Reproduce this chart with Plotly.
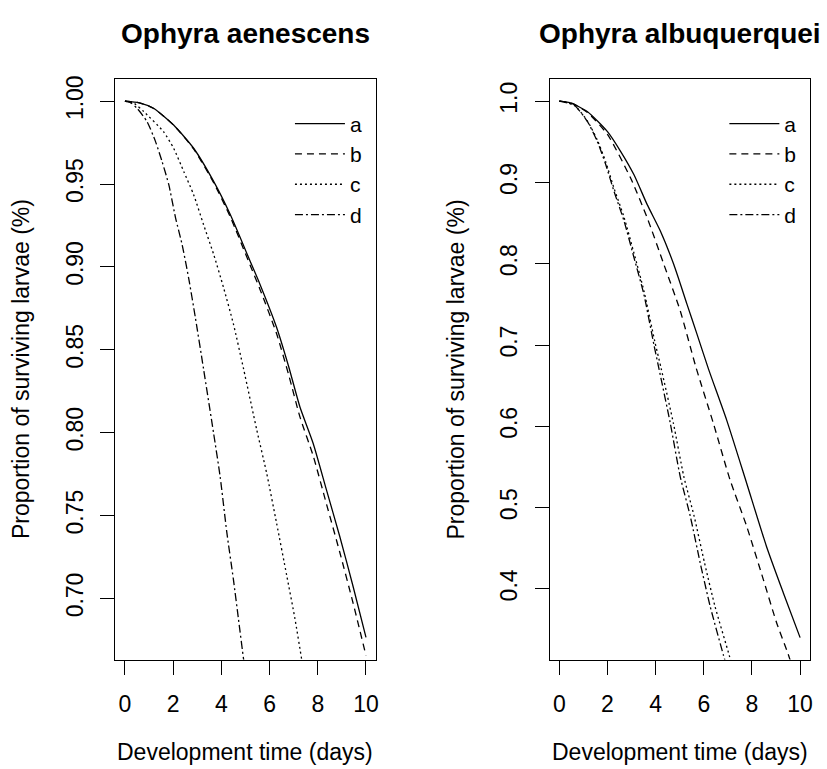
import plotly.graph_objects as go

# ---------------- data ----------------
titles = ["Ophyra aenescens", "Ophyra albuquerquei"]
x_label = "Development time (days)"
y_label = "Proportion of surviving larvae (%)"
series_names = ["a", "b", "c", "d"]

# Ophyra aenescens
aen_a_t = [0, 0.6, 1.2, 2.02, 2.85, 3.68, 4.37, 5.19, 5.6, 6.29, 6.8, 7.26, 7.81, 8.36, 8.91, 9.46, 10.0]
aen_a_v = [1.0, 0.9990, 0.9956, 0.9856, 0.9716, 0.9516, 0.9316, 0.9036, 0.8896, 0.8636, 0.8395, 0.8155, 0.7935, 0.7655, 0.7375, 0.7075, 0.6765]
aen_b_t = [0, 0.6, 1.2, 2.02, 2.85, 3.68, 4.37, 5.19, 5.6, 6.29, 6.8, 7.26, 7.81, 8.36, 8.91, 9.46, 10.0]
aen_b_v = [1.0, 0.9990, 0.9956, 0.9855, 0.9712, 0.9508, 0.9302, 0.9012, 0.8866, 0.8598, 0.8345, 0.8095, 0.7860, 0.7570, 0.7280, 0.6975, 0.6655]
aen_c_t = [0, 0.4, 0.79, 1.6, 2.02, 2.44, 2.85, 3.26, 3.68, 4.09, 4.5, 4.92, 5.47, 5.88, 6.29, 6.71, 7.05, 7.33, 7.45]
aen_c_v = [1.0, 0.9985, 0.9936, 0.9816, 0.9716, 0.9576, 0.9436, 0.9256, 0.9076, 0.8876, 0.8656, 0.8386, 0.8016, 0.7755, 0.7455, 0.7140, 0.6880, 0.6635, 0.6530]
aen_d_t = [0, 0.25, 0.51, 0.92, 1.27, 1.54, 1.82, 2.1, 2.37, 2.64, 2.92, 3.26, 3.68, 3.95, 4.23, 4.5, 4.71, 4.92, 5.0]
aen_d_v = [1.0, 0.9990, 0.9956, 0.9876, 0.9756, 0.9636, 0.9496, 0.9296, 0.9136, 0.8936, 0.8696, 0.8386, 0.7995, 0.7735, 0.7395, 0.7115, 0.6875, 0.6635, 0.6550]

# Ophyra albuquerquei
alb_a_t = [0, 0.5, 1.17, 2.0, 2.55, 3.1, 3.65, 4.2, 4.75, 5.3, 5.71, 6.2, 6.95, 7.78, 8.6, 9.3, 10.0]
alb_a_v = [1.0, 0.9975, 0.987, 0.9625, 0.938, 0.9094, 0.8727, 0.840, 0.7993, 0.7503, 0.7140, 0.670, 0.6076, 0.530, 0.4525, 0.3953, 0.340]
alb_b_t = [0, 0.5, 1.17, 2.0, 2.96, 3.65, 4.34, 5.02, 5.67, 6.4, 7.09, 7.78, 8.47, 9.02, 9.5, 9.6]
alb_b_v = [1.0, 0.9975, 0.986, 0.959, 0.9054, 0.8564, 0.7993, 0.7422, 0.673, 0.6034, 0.5341, 0.477, 0.4117, 0.3586, 0.320, 0.311]
alb_c_t = [0, 0.62, 1.17, 1.58, 1.93, 2.27, 2.69, 3.1, 3.51, 3.96, 4.23, 4.74, 5.17, 5.6, 6.03, 6.46, 7.06, 7.15]
alb_c_v = [1.0, 0.995, 0.9755, 0.952, 0.925, 0.893, 0.857, 0.813, 0.767, 0.705, 0.671, 0.6034, 0.5382, 0.4892, 0.432, 0.379, 0.3179, 0.308]
alb_d_t = [0, 0.62, 1.17, 1.58, 1.93, 2.27, 2.69, 3.1, 3.51, 3.93, 4.13, 4.61, 5.02, 5.44, 5.85, 6.26, 6.82, 6.9]
alb_d_v = [1.0, 0.995, 0.9748, 0.9503, 0.9217, 0.8891, 0.8524, 0.8075, 0.7625, 0.700, 0.672, 0.6034, 0.5382, 0.4892, 0.432, 0.379, 0.3179, 0.310]

x_ticks = [0, 2, 4, 6, 8, 10]
aen_y_ticks = [0.70, 0.75, 0.80, 0.85, 0.90, 0.95, 1.00]
alb_y_ticks = [0.4, 0.5, 0.6, 0.7, 0.8, 0.9, 1.0]

# ---------------- styling ----------------
FONT = "Liberation Sans, Arial, Helvetica, sans-serif"
FS = 23
LEG_FS = 21
dashes = ["solid", "7px,5px", "2px,3px", "8px,3px,2px,3px"]
W, H = 827, 769

fig = go.Figure()

panels = [
    ([(aen_a_t, aen_a_v), (aen_b_t, aen_b_v), (aen_c_t, aen_c_v), (aen_d_t, aen_d_v)], "x", "y", "legend"),
    ([(alb_a_t, alb_a_v), (alb_b_t, alb_b_v), (alb_c_t, alb_c_v), (alb_d_t, alb_d_v)], "x2", "y2", "legend2"),
]
for curves, xa, ya, lg in panels:
    for name, (t, v), dash in zip(series_names, curves, dashes):
        fig.add_trace(go.Scatter(
            x=t, y=v, mode="lines", name=name, xaxis=xa, yaxis=ya, legend=lg,
            line=dict(color="black", width=1.3, dash=dash, shape="spline", smoothing=0.6),
            hoverinfo="skip",
        ))

# plot boxes in pixels
L_left, L_right = 115.7, 377.0
R_left, R_right = 551.7, 812.7
top_px, bot_px = 75.7, 659.0

def xdom(a, b):
    return [a / W, b / W]

ydom = [1 - bot_px / H, 1 - top_px / H]

axis_common = dict(
    showline=True, mirror=True, linecolor="black", linewidth=1.3,
    ticks="outside", ticklen=14, tickwidth=1.3, tickcolor="black",
    showgrid=False, zeroline=False,
    tickfont=dict(family=FONT, size=FS, color="black"),
)

legend_common = dict(xanchor="left", yanchor="top", bgcolor="rgba(0,0,0,0)",
                     borderwidth=0, itemwidth=50, tracegroupgap=0,
                     font=dict(family=FONT, size=LEG_FS, color="black"))

fig.update_layout(
    width=W, height=H, autosize=False,
    margin=dict(l=0, r=0, t=0, b=0),
    paper_bgcolor="white", plot_bgcolor="white",
    font=dict(family=FONT, size=FS, color="black"),
    xaxis=dict(domain=xdom(L_left, L_right), range=[-0.4, 10.4], tickvals=x_ticks,
               ticklabelstandoff=10, anchor="y", **axis_common),
    yaxis=dict(domain=ydom, range=[0.6631, 1.0132], tickvals=aen_y_ticks,
               ticktext=[f"{v:.2f}" for v in aen_y_ticks], tickangle=-90,
               ticklabelstandoff=8, anchor="x", **axis_common),
    xaxis2=dict(domain=xdom(R_left, R_right), range=[-0.4, 10.4], tickvals=x_ticks,
                ticklabelstandoff=10, anchor="y2", **axis_common),
    yaxis2=dict(domain=ydom, range=[0.313, 1.0269], tickvals=alb_y_ticks,
                ticktext=[f"{v:.1f}" for v in alb_y_ticks], tickangle=-90,
                ticklabelstandoff=8, anchor="x2", **axis_common),
    legend=dict(x=291 / W, y=1 - 100 / H, **legend_common),
    legend2=dict(x=727 / W, y=1 - 100 / H, **legend_common),
    showlegend=True,
)

annotations = []
for title, (a, b) in zip(titles, [(L_left, L_right), (R_left, R_right)]):
    cx = (a + b) / 2 / W
    annotations.append(dict(text=f"<b>{title}</b>", x=cx, y=1 - 30 / H, xref="paper", yref="paper",
                            showarrow=False, xanchor="center", yanchor="middle",
                            font=dict(family=FONT, size=28, color="black")))
    annotations.append(dict(text=x_label, x=cx, y=1 - 752 / H, xref="paper", yref="paper",
                            showarrow=False, xanchor="center", yanchor="middle",
                            font=dict(family=FONT, size=FS, color="black")))
    annotations.append(dict(text=y_label, x=(a - 94) / W, y=1 - (top_px + bot_px) / 2 / H,
                            xref="paper", yref="paper", textangle=-90,
                            showarrow=False, xanchor="center", yanchor="middle",
                            font=dict(family=FONT, size=FS, color="black")))
fig.update_layout(annotations=annotations)

fig.write_html("out.html")
